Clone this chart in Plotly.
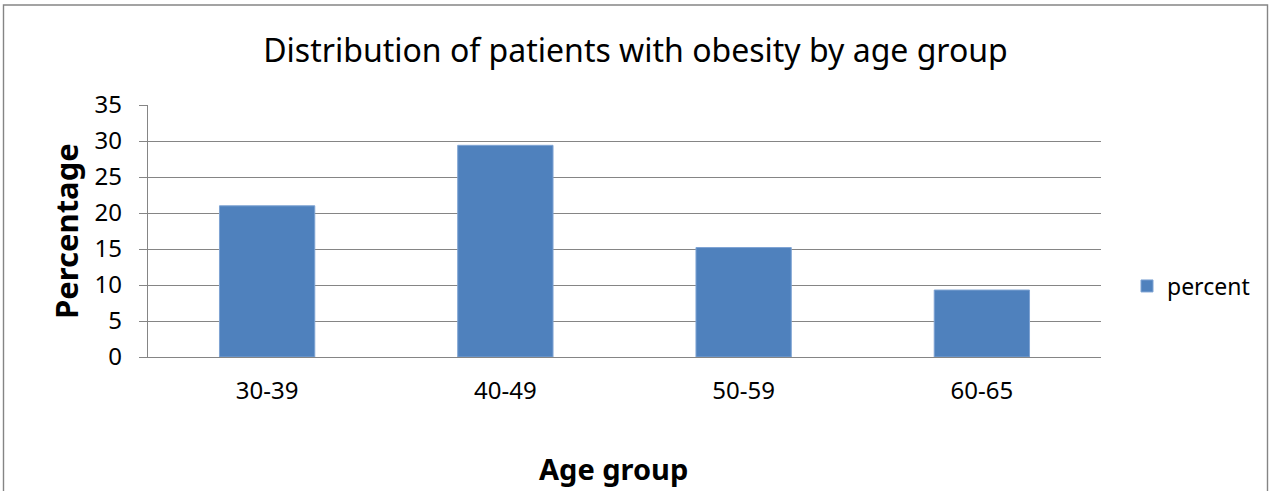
import plotly.graph_objects as go

# Share of patients with obesity in each age band
age_groups = ["30-39", "40-49", "50-59", "60-65"]
percent = [21.0, 29.4, 15.2, 9.3]

W, H = 1271, 491
M_L, M_R, M_T, M_B = 148, 170, 105, 134
PW, PH = W - M_L - M_R, H - M_T - M_B

FONT = "Noto Sans"
GRID = "#858585"
BAR = "#4F81BD"


def px_x(x):
    """Pixel column -> paper x."""
    return (x - M_L) / PW


def px_y(y):
    """Pixel row -> paper y."""
    return (H - M_B - y) / PH


fig = go.Figure(
    go.Bar(
        x=age_groups,
        y=percent,
        name="percent",
        marker=dict(color=BAR, line=dict(color="#7EA3D3", width=1)),
    )
)

fig.update_layout(
    width=W,
    height=H,
    margin=dict(l=M_L, r=M_R, t=M_T, b=M_B, pad=0),
    paper_bgcolor="white",
    plot_bgcolor="white",
    bargap=0.6,
    font=dict(family=FONT, size=24, color="black"),
    title=dict(
        text="Distribution of patients with obesity by age group",
        font=dict(family=FONT, size=32, color="black"),
        x=0.5,
        xanchor="center",
        xref="container",
        y=1 - 51 / H,
        yref="container",
        yanchor="middle",
    ),
    showlegend=True,
    legend=dict(
        x=px_x(1127),
        xanchor="left",
        y=px_y(286),
        yanchor="middle",
        font=dict(family=FONT, size=23, color="black"),
        bgcolor="rgba(0,0,0,0)",
    ),
    xaxis=dict(
        showline=True,
        linecolor=GRID,
        linewidth=1.4,
        showgrid=False,
        ticks="",
        ticklabelstandoff=12,
        tickfont=dict(family=FONT, size=24),
    ),
    yaxis=dict(
        range=[0, 35],
        dtick=5,
        showline=True,
        linecolor=GRID,
        linewidth=1.4,
        showgrid=True,
        gridcolor=GRID,
        gridwidth=1.4,
        zeroline=False,
        ticks="outside",
        ticklen=8,
        tickcolor=GRID,
        tickwidth=1.4,
        ticklabelstandoff=12,
        tickfont=dict(family=FONT, size=24),
    ),
    annotations=[
        dict(
            text="<b>Percentage</b>",
            xref="paper",
            yref="paper",
            x=px_x(66),
            y=px_y(231),
            textangle=-90,
            showarrow=False,
            xanchor="center",
            yanchor="middle",
            font=dict(family=FONT, size=31, color="black"),
        ),
        dict(
            text="<b>Age group</b>",
            xref="paper",
            yref="paper",
            x=px_x(613),
            y=px_y(468),
            showarrow=False,
            xanchor="center",
            yanchor="middle",
            font=dict(family=FONT, size=29, color="black"),
        ),
    ],
    shapes=[
        # chart frame
        dict(
            type="rect",
            xref="paper",
            yref="paper",
            x0=px_x(3.5),
            x1=px_x(1267.5),
            y0=px_y(H + 20),
            y1=px_y(5),
            line=dict(color=GRID, width=1.4),
            fillcolor="rgba(0,0,0,0)",
            layer="below",
        )
    ],
)

fig.write_html("out.html")
